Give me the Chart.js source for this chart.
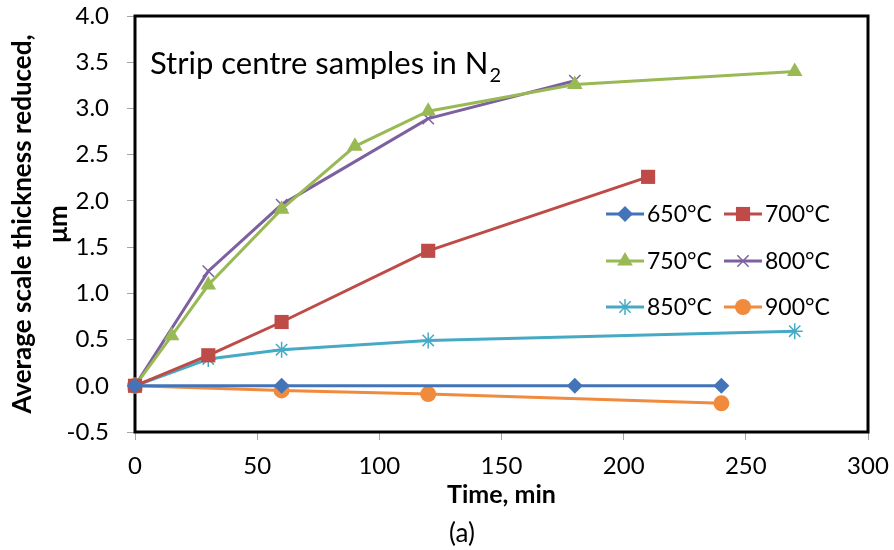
<!DOCTYPE html>
<html>
<head>
<meta charset="utf-8">
<script src="https://cdn.jsdelivr.net/npm/chart.js@4/dist/chart.umd.min.js"></script>
<style>
  html, body { margin: 0; padding: 0; background: #fff; }
  #wrap { width: 894px; height: 550px; position: relative; }
</style>
</head>
<body>
<div id="wrap"><canvas id="chart"></canvas></div>
<script>
/* data */
const X_TICKS = [0, 50, 100, 150, 200, 250, 300];
const Y_TICKS = [-0.5, 0, 0.5, 1, 1.5, 2, 2.5, 3, 3.5, 4];

const SERIES_NAMES = ['650°C', '700°C', '750°C', '800°C', '850°C', '900°C'];

const t650 = [0, 60, 180, 240];
const v650 = [0, 0, 0, 0];
const t700 = [0, 30, 60, 120, 210];
const v700 = [0, 0.33, 0.69, 1.46, 2.26];
const t750 = [0, 15, 30, 60, 90, 120, 180, 270];
const v750 = [0, 0.54, 1.09, 1.91, 2.59, 2.97, 3.26, 3.40];
const t800 = [0, 30, 60, 120, 180];
const v800 = [0, 1.24, 1.96, 2.89, 3.30];
const t850 = [0, 30, 60, 120, 270];
const v850 = [0, 0.29, 0.39, 0.49, 0.59];
const t900 = [0, 60, 120, 240];
const v900 = [0, -0.05, -0.09, -0.19];

const FONT = 'Lato';
const COLORS = ['#4374B9', '#BE4B48', '#98B954', '#7D60A0', '#46AAC5', '#F08A3C'];

const pts = (xs, ys) => xs.map((x, i) => ({ x: x, y: ys[i] }));

function series(i, xs, ys, style, radius, fill) {
  return {
    label: SERIES_NAMES[i],
    data: pts(xs, ys),
    showLine: true,
    borderColor: COLORS[i],
    backgroundColor: COLORS[i],
    borderWidth: 3,
    pointStyle: style,
    pointRadius: radius,
    pointBackgroundColor: fill ? COLORS[i] : 'transparent',
    pointBorderColor: COLORS[i],
    pointBorderWidth: fill ? 0 : 1.5,
    clip: false
  };
}

const datasets = [
  series(0, t650, v650, 'rectRot', 8, true),
  series(1, t700, v700, 'rect', 10, true),
  series(2, t750, v750, 'triangle', 9, true),
  series(3, t800, v800, 'crossRot', 8, false),
  series(4, t850, v850, 'star', 8, false),
  series(5, t900, v900, 'circle', 8, true)
];

/* frame, inset caption, custom legend */
const decor = {
  id: 'decor',
  beforeDatasetsDraw(chart) {
    const { ctx, chartArea: a } = chart;
    ctx.save();
    ctx.strokeStyle = '#000';
    ctx.lineWidth = 3;
    ctx.strokeRect(a.left, a.top, a.right - a.left, a.bottom - a.top);
    ctx.restore();
  },
  afterDraw(chart) {
    const { ctx, chartArea: a } = chart;
    ctx.save();
    ctx.fillStyle = '#000';
    ctx.textBaseline = 'alphabetic';
    ctx.font = '31px ' + FONT;
    const cap = 'Strip centre samples in N';
    ctx.fillText(cap, a.left + 15, 74);
    const w = ctx.measureText(cap).width;
    ctx.font = '20px ' + FONT;
    ctx.fillText('2', a.left + 15 + w + 1, 82);

    ctx.font = '26px ' + FONT;
    ctx.textAlign = 'center';
    ctx.fillText('(a)', 462, 542);

    // legend, 3 rows x 2 columns
    ctx.textAlign = 'left';
    ctx.textBaseline = 'middle';
    ctx.font = '23px ' + FONT;
    const colX = [606, 724];
    const rowY = [214, 261, 307];
    chart.data.datasets.forEach((ds, i) => {
      const x = colX[i % 2], y = rowY[Math.floor(i / 2)];
      ctx.strokeStyle = ds.borderColor;
      ctx.lineWidth = 3;
      ctx.beginPath();
      ctx.moveTo(x, y);
      ctx.lineTo(x + 38, y);
      ctx.stroke();
      ctx.fillStyle = ds.pointBackgroundColor;
      ctx.strokeStyle = ds.pointBorderColor;
      ctx.lineWidth = ds.pointBorderWidth;
      Chart.helpers.drawPoint(ctx, {
        pointStyle: ds.pointStyle, radius: ds.pointRadius, rotation: 0,
        borderWidth: ds.pointBorderWidth
      }, x + 19, y);
      ctx.fillStyle = '#000';
      ctx.fillText(ds.label, x + 41, y + 1);
    });
    ctx.restore();
  }
};

new Chart(document.getElementById('chart'), {
  type: 'scatter',
  data: { datasets: datasets },
  plugins: [decor],
  options: {
    responsive: true,
    maintainAspectRatio: false,
    animation: false,
    layout: { padding: { left: 0, right: 26, top: 16, bottom: 0 } },
    plugins: { legend: { display: false }, tooltip: { enabled: false } },
    scales: {
      x: {
        type: 'linear',
        min: 0, max: 300,
        afterFit: s => { s.height = 118; s.paddingLeft = 0; s.paddingRight = 0; },
        afterBuildTicks: s => { s.ticks = X_TICKS.map(v => ({ value: v })); },
        grid: { drawOnChartArea: false, drawTicks: true, tickLength: 8, color: '#a6a6a6', lineWidth: 1 },
        border: { display: false },
        ticks: { color: '#000', padding: 12, font: { family: FONT, size: 24 } },
        title: {
          display: true, text: 'Time, min', color: '#000',
          padding: { top: 0, bottom: 40 },
          font: { family: FONT, size: 25, weight: 'bold' }
        }
      },
      y: {
        type: 'linear',
        min: -0.5, max: 4,
        afterFit: s => { s.width = 135; s.paddingTop = 0; s.paddingBottom = 0; },
        afterBuildTicks: s => { s.ticks = Y_TICKS.map(v => ({ value: v })); },
        grid: { drawOnChartArea: false, drawTicks: true, tickLength: 8, color: '#a6a6a6', lineWidth: 1 },
        border: { display: false },
        ticks: { color: '#000', padding: 18, font: { family: FONT, size: 24 }, callback: v => v.toFixed(1) },
        title: {
          display: true, text: ['Average scale thickness reduced,', 'μm'], color: '#000',
          padding: { top: 4, bottom: 0 },
          font: { family: FONT, size: 26, weight: 'bold', lineHeight: 1.4 }
        }
      }
    }
  }
});
</script>
</body>
</html>
